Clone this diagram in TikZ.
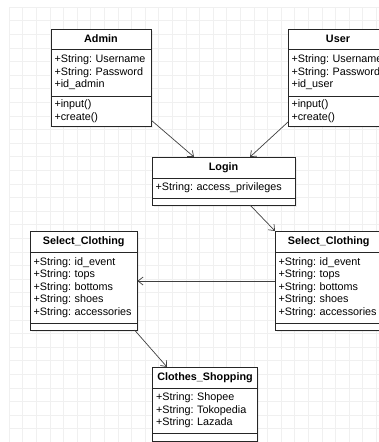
\documentclass[tikz,border=0pt]{standalone}
\usepackage{fontspec}
\setmainfont{Liberation Sans}
\usetikzlibrary{positioning,arrows.meta,shadows}
\frenchspacing

\begin{document}
\begin{tikzpicture}[x=1pt, y=-1pt,
    every node/.style={outer sep=0pt, font=\fontsize{10.8}{12.6}\selectfont},
    umlbox/.style={draw=black!85, fill=white, line width=0.8pt,
      drop shadow={shadow xshift=1.5pt, shadow yshift=-1.5pt, opacity=0.12}},
    cname/.style={umlbox, inner sep=0pt, minimum width=#1, minimum height=21pt,
      font=\fontsize{10.8}{12.6}\selectfont\bfseries},
    cpart/.style={umlbox, align=left, inner xsep=3.5pt, inner ysep=0pt, text width=#1},
    cempty/.style={umlbox, inner sep=0pt, minimum width=#1, minimum height=7pt},
    gridline/.style={black!6, line width=0.6pt},
    assoc/.style={draw=black!75, line width=0.7pt, -{Straight Barb[length=5pt,width=8pt]}}]
  \fill[white] (0,0) rectangle (379,442);
  \useasboundingbox (0,0) rectangle (379,442);
  % background grid
  \foreach \i in {0,...,27} \draw[gridline] (9+13.6*\i,7) -- (9+13.6*\i,442);
  \foreach \j in {0,...,32} \draw[gridline] (9,7+13.6*\j) -- (379,7+13.6*\j);

  % Admin
  \node[cname=100pt, minimum height=20pt] (admin) at (101,39) {Admin};
  \node[cpart=93pt, minimum height=47pt, below=0pt of admin] (admin-a)
    {+String: Username\\+String: Password\\+id\_admin};
  \node[cpart=93pt, minimum height=30pt, below=0pt of admin-a] (admin-o)
    {+input()\\+create()};

  % User
  \node[cname=100pt, minimum height=20pt] (user) at (338,39) {User};
  \node[cpart=93pt, minimum height=47pt, below=0pt of user] (user-a)
    {+String: Username\\+String: Password\\+id\_user};
  \node[cpart=93pt, minimum height=30pt, below=0pt of user-a] (user-o)
    {+input()\\+create()};

  % Login
  \node[cname=143pt] (login) at (223.5,167.5) {Login};
  \node[cpart=136pt, minimum height=20pt, below=0pt of login] (login-a)
    {+String: access\_privileges};
  \node[cempty=143pt, below=0pt of login-a] (login-o) {};

  % Select_Clothing (left)
  \node[cname=107.5pt] (selL) at (83.75,241.5) {Select\_Clothing};
  \node[cpart=100.5pt, minimum height=71pt, below=0pt of selL] (selL-a)
    {+String: id\_event\\+String: tops\\+String: bottoms\\+String: shoes\\+String: accessories};
  \node[cempty=107.5pt, below=0pt of selL-a] (selL-o) {};

  % Select_Clothing (right)
  \node[cname=107.5pt] (selR) at (328.75,241.5) {Select\_Clothing};
  \node[cpart=100.5pt, minimum height=71pt, below=0pt of selR] (selR-a)
    {+String: id\_event\\+String: tops\\+String: bottoms\\+String: shoes\\+String: accessories};
  \node[cempty=107.5pt, below=0pt of selR-a] (selR-o) {};

  % Clothes_Shopping
  \node[cname=105pt] (shop) at (205,377.5) {Clothes\_Shopping};
  \node[cpart=98pt, minimum height=45pt, below=0pt of shop] (shop-a)
    {+String: Shopee\\+String: Tokopedia\\+String: Lazada};
  \node[cempty=105pt, minimum height=8pt, below=0pt of shop-a] (shop-o) {};

  % associations
  \draw[assoc] ([yshift=-9pt]admin-o.east) -- ([xshift=-29.5pt]login.north);
  \draw[assoc] ([yshift=-11pt]user-o.west) -- ([xshift=26.5pt]login.north);
  \draw[assoc] ([xshift=26.5pt]login-o.south) -- (selR.north west);
  \draw[assoc] ([yshift=6.5pt]selR-a.west) -- ([yshift=6.5pt]selL-a.east);
  \draw[assoc] ([xshift=-3pt]selL-o.south east) -- ([xshift=-38pt]shop.north);
\end{tikzpicture}
\end{document}
